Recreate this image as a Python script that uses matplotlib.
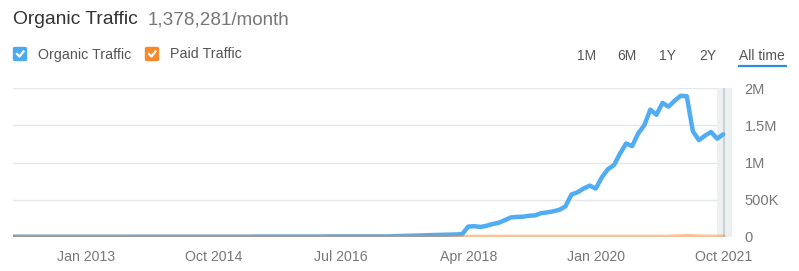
import matplotlib.pyplot as plt
import matplotlib.patches as mpatches
import numpy as np

plt.rcParams['font.family'] = ['Liberation Sans', 'DejaVu Sans']

# -----------------------------
# Data (monthly, Jan 2012 .. Oct 2021)
# -----------------------------
organic_early = [3000] * 20 + [4000] * 20 + [6000] * 12 + [8000] * 11
organic_late = [12000, 14000, 16000, 18000, 20000, 23000, 26000, 28000, 30000,
                32000, 34000, 38000, 140000, 145000, 135000, 150000, 175000,
                190000, 225000, 262000, 270000, 272000, 285000, 290000, 320000,
                330000, 345000, 365000, 410000, 570000, 600000, 650000, 690000,
                650000, 800000, 910000, 965000, 1120000, 1255000, 1220000,
                1390000, 1500000, 1710000, 1640000, 1800000, 1750000, 1830000,
                1895000, 1890000, 1420000, 1300000, 1360000, 1410000, 1320000,
                1378281]
organic = organic_early + organic_late

paid = [1000] * 108 + [3000, 5000, 8000, 12000, 9000, 5000, 4000, 3000, 3000, 3000]

x_tick_pos = [12, 33, 54, 75, 96, 117]
x_tick_labels = ["Jan 2013", "Oct 2014", "Jul 2016", "Apr 2018", "Jan 2020", "Oct 2021"]
y_ticks = [0, 500000, 1000000, 1500000, 2000000]
y_tick_labels = ["0", "500K", "1M", "1.5M", "2M"]
ranges = ["1M", "6M", "1Y", "2Y", "All time"]

months = np.arange(len(organic))

# -----------------------------
# Figure
# -----------------------------
fig = plt.figure(figsize=(7.99, 2.71), dpi=100)
W, H = 799, 271
ax = fig.add_axes([13 / W, (H - 237) / H, (732 - 13) / W, (237 - 88) / H])

ax.set_xlim(0, 118.45)
ax.set_ylim(0, 2000000)

for y in y_ticks:
    ax.axhline(y, color='#E4E8EA', lw=1, zorder=0)

# current period band (under the lines)
ax.axvspan(116.0, 118.45, color='#EDF0F1', zorder=1, lw=0)
ax.axvline(117.05, color='#CDD2D5', lw=1.5, zorder=2)

ax.plot(months, organic, color='#50ACF3', lw=3.2, solid_capstyle='round',
        solid_joinstyle='round', zorder=3)
ax.plot(months, paid, color='#F28A3A', lw=3.2, alpha=0.5, zorder=4)

ax.set_xticks(x_tick_pos, x_tick_labels)
ax.set_yticks(y_ticks, y_tick_labels)
ax.yaxis.tick_right()
ax.tick_params(axis='x', length=0, pad=9.5, labelsize=10.2, labelcolor='#777777')
ax.tick_params(axis='y', length=0, pad=9, labelsize=10.5, labelcolor='#777777')
for s in ax.spines.values():
    s.set_visible(False)

# -----------------------------
# Header texts
# -----------------------------
fig.text(13 / W, 1 - 20 / H, "Organic Traffic", fontsize=13.9, color='#333333',
         ha='left', va='center')
fig.text(148 / W, 1 - 20 / H, "1,378,281/month", fontsize=13.6, color='#777777',
         ha='left', va='center')


def checkbox(x0, color, label):
    box = mpatches.FancyBboxPatch((x0 / W, 1 - 60.5 / H), 13 / W, 13 / H,
                                  boxstyle="round,pad=0,rounding_size=0.003",
                                  transform=fig.transFigure, color=color)
    fig.patches.append(box)
    fig.lines.append(plt.Line2D([(x0 + 3.5) / W, (x0 + 6) / W, (x0 + 10) / W],
                                [1 - 54 / H, 1 - 56.5 / H, 1 - 51.5 / H],
                                transform=fig.transFigure, color='white', lw=1.6))
    fig.text((x0 + 24.5) / W, 1 - 54.5 / H, label, fontsize=10.3, color='#555555',
             ha='left', va='center')


checkbox(13.5, '#4DA9F0', "Organic Traffic")
checkbox(145.5, '#F7892B', "Paid Traffic")

range_x = [577, 617, 659, 699, 739]
for rx, lab in zip(range_x, ranges):
    fig.text(rx / W, 1 - 56.5 / H, lab, fontsize=10, color='#555555',
             ha='left', va='center')
fig.lines.append(plt.Line2D([739 / W, 786 / W], [1 - 66 / H, 1 - 66 / H],
                            transform=fig.transFigure, color='#2A8FDB', lw=1.6))

fig.savefig("out.png", dpi=100)
